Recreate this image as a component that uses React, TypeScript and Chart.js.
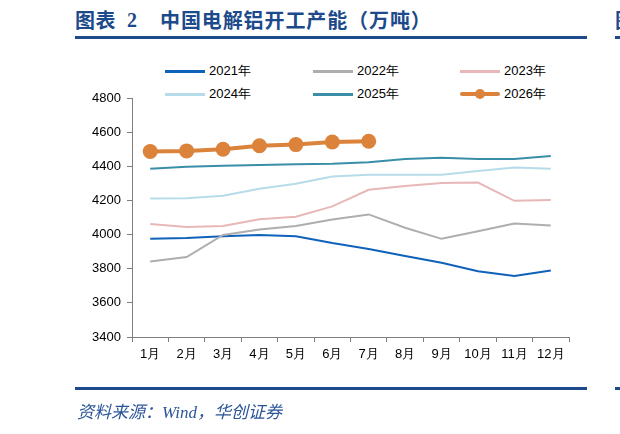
import React, { useEffect, useRef } from "react";
import { Chart, registerables } from "chart.js";
Chart.register(...registerables);

const months = ["1月", "2月", "3月", "4月", "5月", "6月", "7月", "8月", "9月", "10月", "11月", "12月"];
const seriesNames = ["2021年", "2022年", "2023年", "2024年", "2025年", "2026年"];
const v2021 = [3975, 3980, 3990, 3998, 3990, 3950, 3915, 3875, 3835, 3785, 3757, 3790];
const v2022 = [3842, 3868, 3998, 4030, 4050, 4088, 4118, 4040, 3975, 4020, 4065, 4053];
const v2023 = [4062, 4045, 4050, 4090, 4105, 4165, 4262, 4285, 4302, 4305, 4198, 4202];
const v2024 = [4212, 4213, 4227, 4268, 4298, 4340, 4350, 4350, 4350, 4372, 4393, 4386];
const v2025 = [4385, 4398, 4403, 4408, 4412, 4415, 4423, 4443, 4450, 4443, 4443, 4460];
const v2026 = [4487, 4490, 4500, 4520, 4527, 4542, 4547];
const yTicks = [3400, 3600, 3800, 4000, 4200, 4400, 4600, 4800];

const colors = ["#0F62B9", "#AEAEAE", "#E8B7B7", "#B6DCEA", "#3A8EA8", "#DB823B"];
const allValues = [v2021, v2022, v2023, v2024, v2025, v2026];

const BLUE = "#1C4A8A";
const tickFont = { family: "'Liberation Sans', Arial, sans-serif", size: 13 };

export default function App() {
  const ref = useRef<HTMLCanvasElement | null>(null);

  useEffect(() => {
    document.body.style.margin = "0";
    const ctx = ref.current!.getContext("2d")!;
    const datasets = seriesNames.map((name, i) => {
      const is26 = i === 5;
      return {
        label: name,
        data: allValues[i],
        borderColor: colors[i],
        backgroundColor: colors[i],
        borderWidth: is26 ? 4 : 2,
        pointRadius: is26 ? 7.5 : 0,
        pointHoverRadius: is26 ? 7.5 : 0,
        pointBorderWidth: 0,
        tension: 0,
        fill: false,
        order: is26 ? 0 : 6 - i,
      };
    });
    const chart = new Chart(ctx, {
      type: "line",
      data: { labels: months, datasets },
      options: {
        animation: false,
        responsive: true,
        maintainAspectRatio: false,
        layout: { padding: { left: 0, right: 51, top: 98, bottom: 60 } },
        plugins: { legend: { display: false }, tooltip: { enabled: false } },
        scales: {
          x: {
            type: "category",
            offset: true,
            grid: {
              display: true,
              drawOnChartArea: false,
              drawTicks: true,
              tickLength: 5,
              color: "#7F7F7F",
              offset: true,
            },
            border: { display: true, color: "#7F7F7F", width: 1 },
            ticks: { font: tickFont, color: "#000", padding: 5, maxRotation: 0, autoSkip: false },
            afterFit: (s: any) => {
              s.height = 37;
            },
          },
          y: {
            min: yTicks[0],
            max: yTicks[yTicks.length - 1],
            afterBuildTicks: (s: any) => {
              s.ticks = yTicks.map((v) => ({ value: v }));
            },
            grid: {
              display: true,
              drawOnChartArea: false,
              drawTicks: true,
              tickLength: 5,
              color: "#7F7F7F",
            },
            border: { display: true, color: "#7F7F7F", width: 1 },
            ticks: { font: tickFont, color: "#000", padding: 6, callback: (v: any) => String(v) },
            afterFit: (s: any) => {
              s.width = 132;
            },
          },
        },
      },
    });
    return () => chart.destroy();
  }, []);

  const legendCols = [165, 313, 460];
  const legendRows = [71, 94];

  return (
    <div style={{ position: "absolute", left: 0, top: 0, width: 620, height: 434, overflow: "hidden", background: "#fff" }}>
      <div
        style={{
          position: "absolute",
          left: 75,
          top: 8,
          fontFamily: "'Noto Sans CJK SC', sans-serif",
          fontWeight: 700,
          fontSize: 20,
          lineHeight: "24px",
          color: BLUE,
          letterSpacing: 0.5,
          whiteSpace: "nowrap",
        }}
      >
        图表
      </div>
      <div
        style={{
          position: "absolute",
          left: 127,
          top: 8,
          fontFamily: "'Liberation Serif', serif",
          fontWeight: 700,
          fontSize: 20,
          lineHeight: "24px",
          color: BLUE,
        }}
      >
        2
      </div>
      <div
        style={{
          position: "absolute",
          left: 160,
          top: 8,
          fontFamily: "'Noto Sans CJK SC', sans-serif",
          fontWeight: 700,
          fontSize: 20,
          lineHeight: "24px",
          color: BLUE,
          letterSpacing: 0.9,
          whiteSpace: "nowrap",
        }}
      >
        中国电解铝开工产能（万吨）
      </div>
      <div style={{ position: "absolute", left: 615, top: 8, width: 5, overflow: "hidden", fontFamily: "'Noto Sans CJK SC', sans-serif", fontWeight: 700, fontSize: 20, lineHeight: "24px", color: BLUE }}>
        图
      </div>
      <div style={{ position: "absolute", left: 75, top: 36, width: 512, height: 3, background: BLUE }} />
      <div style={{ position: "absolute", left: 615, top: 36, width: 10, height: 3, background: BLUE }} />

      {seriesNames.map((name, i) => {
        const x = legendCols[i % 3];
        const y = legendRows[Math.floor(i / 3)];
        const is26 = i === 5;
        return (
          <React.Fragment key={name}>
            <div
              style={{
                position: "absolute",
                left: x,
                top: y - (is26 ? 2 : 1),
                width: 40,
                height: is26 ? 4 : 2.5,
                background: colors[i],
                borderRadius: is26 ? 2 : 0,
              }}
            />
            {is26 && (
              <div
                style={{
                  position: "absolute",
                  left: x + 20 - 5,
                  top: y - 5,
                  width: 10,
                  height: 10,
                  borderRadius: 5,
                  background: colors[i],
                }}
              />
            )}
            <div
              style={{
                position: "absolute",
                left: x + 44,
                top: y - 9,
                fontFamily: "'Liberation Sans', Arial, sans-serif",
                fontSize: 13,
                lineHeight: "18px",
                color: "#000",
                whiteSpace: "nowrap",
              }}
            >
              {name}
            </div>
          </React.Fragment>
        );
      })}

      <div style={{ position: "absolute", left: 0, top: 0, width: 620, height: 434 }}>
        <canvas ref={ref} />
      </div>

      <div style={{ position: "absolute", left: 75, top: 387, width: 512, height: 2.5, background: BLUE }} />
      <div style={{ position: "absolute", left: 615, top: 387, width: 10, height: 2.5, background: BLUE }} />
      <div
        style={{
          position: "absolute",
          left: 77,
          top: 402,
          fontFamily: "'Liberation Serif', 'Noto Sans CJK SC', serif",
          fontStyle: "italic",
          fontSize: 17,
          lineHeight: "22px",
          color: "#2A5597",
          whiteSpace: "nowrap",
        }}
      >
        资料来源：Wind，华创证券
      </div>
    </div>
  );
}
